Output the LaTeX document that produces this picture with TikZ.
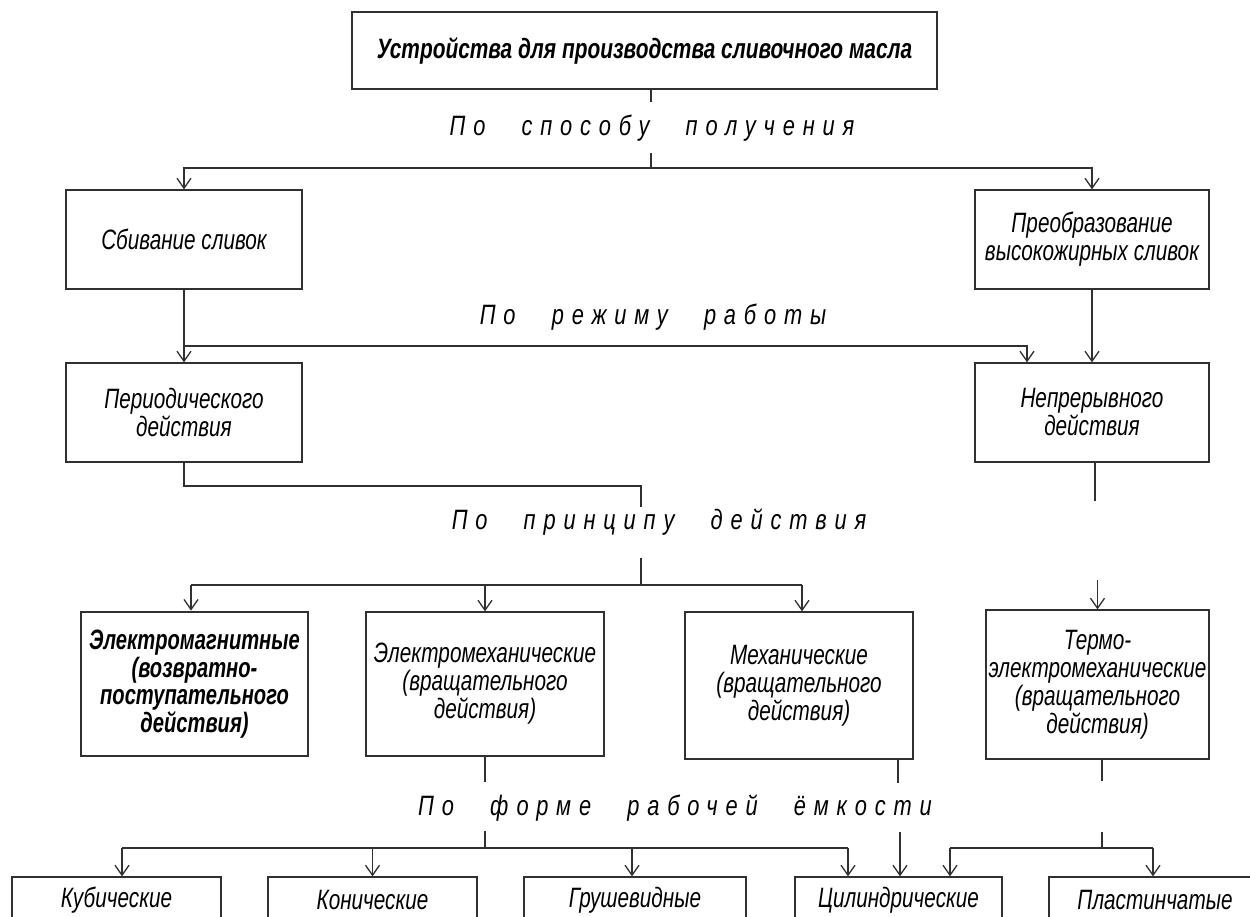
\documentclass[tikz,border=0pt]{standalone}
\usepackage{fontspec}
\usetikzlibrary{arrows.meta}
% narrow italic letters in the manner of a drafting font
\newfontfamily\gost[FakeStretch=0.74]{Liberation Sans}
\newfontfamily\gostnarrow[FakeStretch=0.72]{Liberation Sans}
\newfontfamily\gosttitle[FakeStretch=0.745]{Liberation Sans}
\newfontfamily\gostwide[FakeStretch=0.78,LetterSpace=28,WordSpace=2.6]{Liberation Sans}
\definecolor{linec}{HTML}{303030}

\begin{document}
\begin{tikzpicture}[x=1pt,y=-1pt,
  every node/.style={inner sep=0pt},
  box/.style={draw=linec, line width=1.3pt, align=center, text=black,
    font=\gost\itshape\fontsize{28}{28}\selectfont},
  lab/.style={text=black, font=\gostwide\itshape\fontsize{28}{28}\selectfont},
  wire/.style={draw=linec, line width=1.3pt},
  arr/.style={wire, -{Straight Barb[length=10pt,width=14pt]}}]

\useasboundingbox[fill=white] (0,0) rectangle (1250,917);

% ---- boxes ----
\node[box, minimum width=585, minimum height=77,
      font=\gosttitle\bfseries\itshape\fontsize{28}{28}\selectfont] (top) at (644.5,50.5)
      {Устройства для производства сливочного масла};

\node[box, minimum width=236, minimum height=99] (sbiv)  at (184,239.5) {Сбивание сливок};
\node[box, minimum width=234, minimum height=99] (preob) at (1092,239.5) {Преобразование\\высокожирных сливок};

\node[box, minimum width=236, minimum height=99] (period) at (184,412.5) {Периодического\\действия};
\node[box, minimum width=234, minimum height=99] (nepr)   at (1092,412.5) {Непрерывного\\действия};

\node[box, minimum width=227, minimum height=144, line width=2.8pt,
      font=\gostnarrow\bfseries\itshape\fontsize{28}{27.5}\selectfont] (emag) at (194.5,684)
      {Электромагнитные\\(возвратно-\\поступательного\\действия)};
\node[box, minimum width=238, minimum height=144] (emeh) at (485,684)
      {Электромеханические\\(вращательного\\действия)};
\node[box, minimum width=228, minimum height=147] (meh) at (799,685.5)
      {Механические\\(вращательного\\действия)};
\node[box, minimum width=223, minimum height=149] (termo) at (1097.5,684.5)
      {Термо-\\электромеханические\\(вращательного\\действия)};

\node[box, minimum width=209, minimum height=46] (kub)   at (116.5,900) {Кубические};
\node[box, minimum width=209, minimum height=46] (kon)   at (372.5,900) {Конические};
\node[box, minimum width=222, minimum height=46] (grush) at (635,900)   {Грушевидные};
\node[box, minimum width=207, minimum height=46] (cyl)   at (898.5,900) {Цилиндрические};
\node[box, minimum width=212, minimum height=46] (plast) at (1155,900)  {Пластинчатые};

% ---- classification labels ----
\node[lab] (lab1) at (652,128) {По способу получения};
\node[lab] (lab2) at (653,317) {По режиму работы};
\node[lab] (lab3) at (659,522) {По принципу действия};
\node[lab] (lab4) at (675,808) {По форме рабочей ёмкости};

% ---- junction points ----
\coordinate (s1a) at (651,102);
\coordinate (s1b) at (651,153);
\coordinate (s1c) at (651,168);

\coordinate (s2l) at (184,346);
\coordinate (s2r) at (1027,346);

\coordinate (s3a) at (641,486);
\coordinate (s3b) at (641,507);
\coordinate (s3c) at (641,558);
\coordinate (s3d) at (641,585);
\coordinate (s3l) at (191,585);
\coordinate (s3r) at (802,585);
\coordinate (n3a) at (1095,501);
\coordinate (n3b) at (1097.5,580);

\coordinate (e4a) at (485,782);
\coordinate (e4b) at (485,831);
\coordinate (e4c) at (485,848);
\coordinate (e4l) at (122,848);
\coordinate (e4g) at (632,848);
\coordinate (e4r) at (848,848);
\coordinate (m4a) at (898,783);
\coordinate (m4b) at (900,832);
\coordinate (t4a) at (1102,781);
\coordinate (t4b) at (1102,832);
\coordinate (t4c) at (1102,848);
\coordinate (t4l) at (950,848);
\coordinate (t4r) at (1153,848);

% ---- level 1 ----
\draw[wire] (top.south -| s1a) -- (s1a);
\draw[wire] (s1b) -- (s1c);
\draw[arr] (s1c) -| (sbiv.north);
\draw[arr] (s1c) -| (preob.north);

% ---- level 2 ----
\draw[arr] (sbiv.south) -- (period.north);
\draw[arr] (s2l) -- (s2r) -- (s2r |- nepr.north);
\draw[arr] (preob.south) -- (nepr.north);

% ---- level 3 ----
\draw[wire] (period.south) |- (s3a) -- (s3b);
\draw[wire] (s3c) -- (s3d);
\draw[wire] (s3l) -- (s3r);
\draw[arr] (s3l) -- (s3l |- emag.north);
\draw[arr] (emeh.north |- s3l) -- (emeh.north);
\draw[arr] (s3r) -- (s3r |- meh.north);
\draw[wire] (nepr.south -| n3a) -- (n3a);
\draw[arr] (n3b) -- (termo.north);

% ---- level 4 ----
\draw[wire] (emeh.south -| e4a) -- (e4a);
\draw[wire] (e4b) -- (e4c);
\draw[wire] (e4l) -- (e4r);
\draw[arr] (e4l) -- (e4l |- kub.north);
\draw[arr] (kon.north |- e4l) -- (kon.north);
\draw[arr] (e4g) -- (e4g |- grush.north);
\draw[arr] (e4r) -- (e4r |- cyl.north);
\draw[wire] (meh.south -| m4a) -- (m4a);
\draw[arr] (m4b) -- (m4b |- cyl.north);
\draw[wire] (termo.south -| t4a) -- (t4a);
\draw[wire] (t4b) -- (t4c);
\draw[wire] (t4l) -- (t4r);
\draw[arr] (t4l) -- (t4l |- cyl.north);
\draw[arr] (t4r) -- (t4r |- plast.north);
\end{tikzpicture}
\end{document}
